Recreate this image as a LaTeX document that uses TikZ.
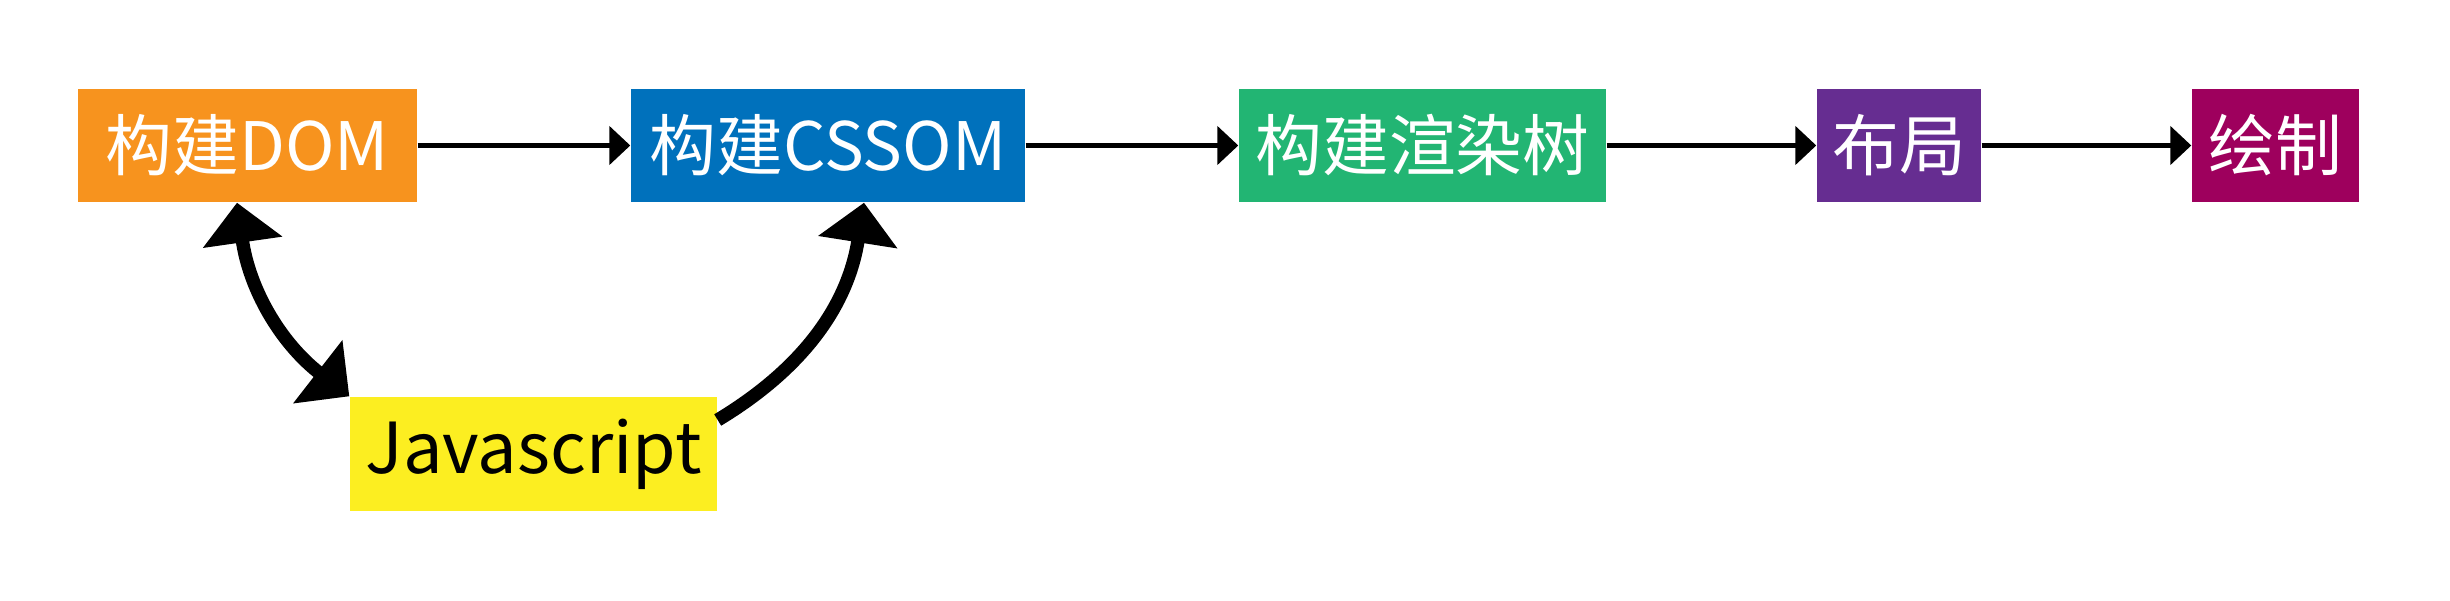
\documentclass[tikz,border=0pt]{standalone}
\usepackage{fontspec}
\setmainfont{Noto Sans CJK SC}
\usetikzlibrary{arrows.meta}
\usetikzlibrary{positioning}

\definecolor{domorange}{HTML}{F7931E}
\definecolor{cssblue}{HTML}{0071BC}
\definecolor{rendergreen}{HTML}{22B573}
\definecolor{layoutpurple}{HTML}{662D91}
\definecolor{paintmagenta}{HTML}{9E005D}
\definecolor{jsyellow}{HTML}{FCEE21}

\begin{document}
\begin{tikzpicture}[
        on grid,
        >={Triangle[length=0.21cm,width=0.38cm]},
        bigtip/.tip={Triangle[length=0.4cm,width=0.78cm]},
        every node/.style={font=\fontsize{19}{23}\selectfont},
        stage/.style={fill=#1, text=white, minimum height=1.13cm, inner sep=0pt},
        flow/.style={->, line width=1.4pt},
        jsarrow/.style={line width=3.8pt}
    ]

    \useasboundingbox (0,0) rectangle (24.5,6);

    % Pipeline stages
    \node[stage=domorange, minimum width=3.39cm] (dom) at (2.475,4.545) {构建DOM};
    \node[stage=cssblue, minimum width=3.94cm, right=5.805cm of dom] (cssom) {构建CSSOM};
    \node[stage=rendergreen, minimum width=3.67cm, right=5.945cm of cssom] (render) {构建渲染树};
    \node[stage=layoutpurple, minimum width=1.64cm, right=4.765cm of render] (layout) {布局};
    \node[stage=paintmagenta, minimum width=1.67cm, right=3.765cm of layout] (paint) {绘制};

    % Script box
    \node[stage=jsyellow, text=black, minimum width=3.67cm, minimum height=1.14cm,
        font=\fontsize{20}{24}\selectfont,
        below right=3.085cm and 2.86cm of dom] (js) {Javascript\hspace{0.15cm}};

    % Main flow arrows
    \draw[flow] (dom) -- (cssom);
    \draw[flow] (cssom) -- (render);
    \draw[flow] (render) -- (layout);
    \draw[flow] (layout) -- (paint);

    % Javascript blocks DOM and CSSOM
    \draw[jsarrow, {bigtip}-{bigtip}] ([xshift=-0.105cm]dom.south)
        to[bend right=22] (js.north west);
    \draw[jsarrow, -{bigtip}] ([yshift=0.34cm]js.east)
        to[bend right=25] ([xshift=0.36cm]cssom.south);

\end{tikzpicture}
\end{document}
